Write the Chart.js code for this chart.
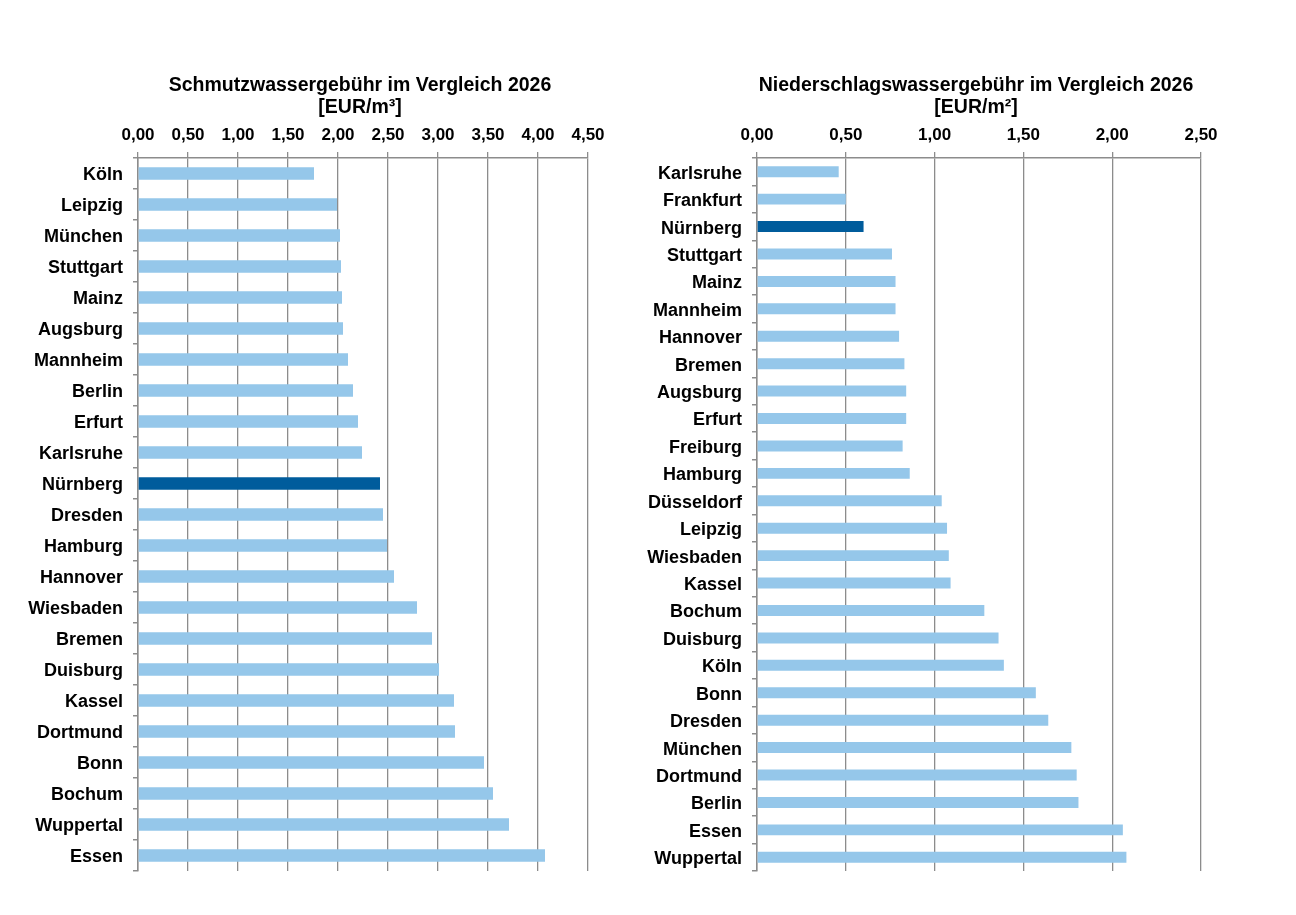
<!DOCTYPE html>
<html>
<head>
<meta charset="utf-8">
<script src="https://cdn.jsdelivr.net/npm/chart.js@4"></script>
<style>
  body { margin: 0; background: #fff; }
  #wrap { position: relative; width: 1296px; height: 915px; }
  .box { position: absolute; top: 0; height: 915px; }
</style>
</head>
<body>
<div id="wrap">
  <div class="box" style="left:0px;width:640px"><canvas id="left"></canvas></div>
  <div class="box" style="left:640px;width:656px"><canvas id="right"></canvas></div>
</div>
<script>
// Schmutzwasser EUR/m3
const swCities = ['Köln', 'Leipzig', 'München', 'Stuttgart', 'Mainz', 'Augsburg', 'Mannheim', 'Berlin',
  'Erfurt', 'Karlsruhe', 'Nürnberg', 'Dresden', 'Hamburg', 'Hannover', 'Wiesbaden', 'Bremen',
  'Duisburg', 'Kassel', 'Dortmund', 'Bonn', 'Bochum', 'Wuppertal', 'Essen'];
const swValues = [1.76, 1.99, 2.02, 2.03, 2.04, 2.05, 2.10, 2.15, 2.20, 2.24, 2.42, 2.45, 2.49, 2.56,
  2.79, 2.94, 3.01, 3.16, 3.17, 3.46, 3.55, 3.71, 4.07];

// Niederschlagswasser EUR/m2
const nwCities = ['Karlsruhe', 'Frankfurt', 'Nürnberg', 'Stuttgart', 'Mainz', 'Mannheim', 'Hannover',
  'Bremen', 'Augsburg', 'Erfurt', 'Freiburg', 'Hamburg', 'Düsseldorf', 'Leipzig', 'Wiesbaden',
  'Kassel', 'Bochum', 'Duisburg', 'Köln', 'Bonn', 'Dresden', 'München', 'Dortmund', 'Berlin',
  'Essen', 'Wuppertal'];
const nwValues = [0.46, 0.50, 0.60, 0.76, 0.78, 0.78, 0.80, 0.83, 0.84, 0.84, 0.82, 0.86, 1.04, 1.07,
  1.08, 1.09, 1.28, 1.36, 1.39, 1.57, 1.64, 1.77, 1.80, 1.81, 2.06, 2.08];

const highlight = 'Nürnberg';
const light = '#95c7ea';
const dark = '#005c9c';
const axisGrey = '#8c8c8c';
const fontFam = '"Liberation Sans", Arial, sans-serif';

// title drawn over the middle of the plot area (built-in title centres on the whole canvas)
const plotTitle = {
  id: 'plotTitle',
  afterDraw(chart, args, opts) {
    const ctx = chart.ctx;
    const a = chart.chartArea;
    const cx = (a.left + a.right) / 2 - 3;
    ctx.save();
    ctx.fillStyle = '#000';
    ctx.font = 'bold 19.5px ' + fontFam;
    ctx.textAlign = 'center';
    ctx.textBaseline = 'middle';
    opts.lines.forEach((t, i) => ctx.fillText(t, cx, 86 + i * 22));
    ctx.restore();
  }
};

function makeChart(id, cities, values, title, maxX, yWidth, rightPad) {
  const ctx = document.getElementById(id).getContext('2d');
  return new Chart(ctx, {
    type: 'bar',
    data: {
      labels: cities,
      datasets: [{
        data: values,
        backgroundColor: cities.map(c => c === highlight ? dark : light),
        barPercentage: 0.4,
        categoryPercentage: 1.0,
      }]
    },
    plugins: [plotTitle],
    options: {
      indexAxis: 'y',
      responsive: true,
      maintainAspectRatio: false,
      animation: false,
      layout: { padding: { top: 117, bottom: 44, left: 0, right: rightPad } },
      plugins: {
        legend: { display: false },
        tooltip: { enabled: false },
        plotTitle: { lines: title },
      },
      scales: {
        x: {
          position: 'top',
          min: 0,
          max: maxX,
          ticks: {
            stepSize: 0.5,
            color: '#000',
            padding: 6,
            font: { family: fontFam, size: 17, weight: 'bold' },
            callback: v => v.toFixed(2).replace('.', ','),
          },
          grid: { color: axisGrey, lineWidth: 1.3, tickLength: 6, drawTicks: true },
          border: { display: true, color: axisGrey, width: 1.5 },
          afterFit: s => { s.height = 41; },
        },
        y: {
          ticks: {
            color: '#000',
            padding: 10,
            labelOffset: 2,
            font: { family: fontFam, size: 18, weight: 'bold' },
            autoSkip: false,
          },
          grid: { offset: true, drawOnChartArea: false, drawTicks: true, tickLength: 5, color: axisGrey, lineWidth: 1.5 },
          border: { display: true, color: axisGrey, width: 1.5 },
          afterFit: s => { s.width = yWidth; },
        },
      },
    },
  });
}

makeChart('left', swCities, swValues, ['Schmutzwassergebühr im Vergleich 2026', '[EUR/m³]'], 4.5, 138, 52);
makeChart('right', nwCities, nwValues, ['Niederschlagswassergebühr im Vergleich 2026', '[EUR/m²]'], 2.5, 117, 95);
</script>
</body>
</html>
